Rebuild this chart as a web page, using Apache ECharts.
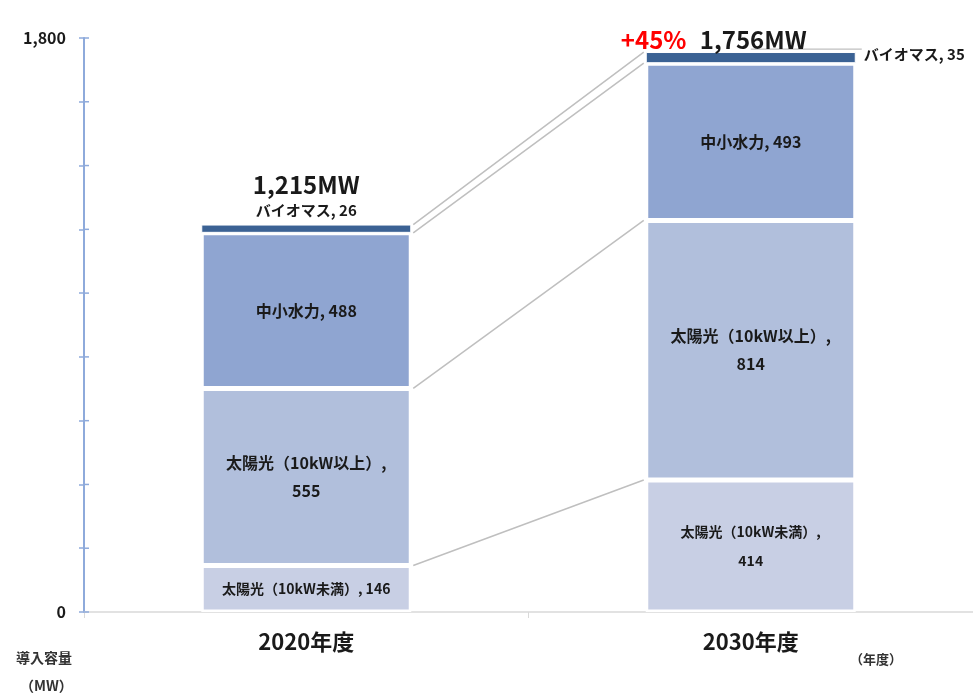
<!DOCTYPE html>
<html>
<head>
<meta charset="utf-8">
<script src="https://cdn.jsdelivr.net/npm/echarts@6/dist/echarts.min.js"></script>
<style>html,body{margin:0;padding:0;background:#fff;}#c{width:973px;height:697px;}</style>
</head>
<body>
<div id="c"></div>
<script>
var categories = ['2020年度', '2030年度'];
var solarSmall = [146, 414];
var solarLarge = [555, 814];
var hydro = [488, 493];
var biomass = [26, 35];
var yTickLabels = { 0: '0', 1800: '1,800' };
var yTickValues = [0, 200, 400, 600, 800, 1000, 1200, 1400, 1600, 1800];

var FONT = '"Noto Sans CJK JP", "Noto Sans", sans-serif';
var BAR_W = 210;
var AXIS_BLUE = '#8eaadb';
var totals = categories.map(function (c, i) { return solarSmall[i] + solarLarge[i] + hydro[i] + biomass[i]; });
var growth = Math.round((totals[1] / totals[0] - 1) * 100);
function fmt(n) { return n.toLocaleString('en-US'); }

// cumulative tops for connector lines
var cumLevels = [];
(function () {
  var s = [0, 0];
  [solarSmall, solarLarge, hydro, biomass].forEach(function (arr) {
    s = [s[0] + arr[0], s[1] + arr[1]];
    cumLevels.push([0, s[0], s[1]]);
  });
})();

var labelBase = { show: true, color: '#1a1a1a', fontFamily: FONT, fontWeight: 'bold', fontSize: 16 };

var chart = echarts.init(document.getElementById('c'));
chart.setOption({
  animation: false,
  grid: { left: 84, right: 0, top: 38, bottom: 85 },
  xAxis: {
    type: 'category',
    data: categories,
    axisLine: { lineStyle: { color: '#d9d9d9', width: 1.5 } },
    axisTick: { show: true, length: 6, lineStyle: { color: '#d9d9d9' } },
    axisLabel: { color: '#1a1a1a', fontFamily: FONT, fontWeight: 'bold', fontSize: 22, margin: 19 }
  },
  yAxis: {
    type: 'value', min: 0, max: 1800, interval: 200, position: 'left',
    axisLine: { show: true, lineStyle: { color: AXIS_BLUE, width: 2 } },
    axisTick: { show: true, inside: false, length: 5, lineStyle: { color: AXIS_BLUE, width: 1.5 } },
    splitLine: { show: false },
    axisLabel: {
      color: '#1a1a1a', fontFamily: FONT, fontWeight: 'bold', fontSize: 16, margin: 18,
      formatter: function (v) { return yTickLabels[v] !== undefined ? yTickLabels[v] : ''; }
    }
  },
  series: [
    {
      name: '太陽光（10kW未満）', type: 'bar', stack: 'a', barWidth: BAR_W, data: solarSmall,
      itemStyle: { color: '#c8cfe4', borderColor: '#fff', borderWidth: 2.5 },
      label: Object.assign({}, labelBase, {
        position: 'inside',
        formatter: function (p) {
          return p.dataIndex === 0 ? '太陽光（10kW未満）, ' + p.value : '太陽光（10kW未満）,\n' + p.value;
        },
        fontSize: 14, lineHeight: 29
      })
    },
    {
      name: '太陽光（10kW以上）', type: 'bar', stack: 'a', barWidth: BAR_W, data: solarLarge,
      itemStyle: { color: '#b1bfdc', borderColor: '#fff', borderWidth: 2.5 },
      label: Object.assign({}, labelBase, {
        position: 'inside', lineHeight: 28,
        formatter: function (p) { return '太陽光（10kW以上）,\n' + p.value; }
      })
    },
    {
      name: '中小水力', type: 'bar', stack: 'a', barWidth: BAR_W, data: hydro,
      itemStyle: { color: '#8fa5d1', borderColor: '#fff', borderWidth: 2.5 },
      label: Object.assign({}, labelBase, {
        position: 'inside',
        formatter: function (p) { return '中小水力, ' + p.value; }
      })
    },
    {
      name: 'バイオマス', type: 'bar', stack: 'a', barWidth: BAR_W,
      data: [
        { value: biomass[0], label: { position: 'top', distance: 4, formatter: '{t|' + fmt(totals[0]) + 'MW}\n{b|バイオマス, ' + biomass[0] + '}' } },
        { value: biomass[1], label: { position: 'right', distance: 8, offset: [0, -3], formatter: '{b|バイオマス, ' + biomass[1] + '}' } }
      ],
      itemStyle: { color: '#3b6294', borderColor: '#fff', borderWidth: 1 },
      label: {
        show: true, fontFamily: FONT, color: '#1a1a1a',
        rich: {
          t: { fontFamily: FONT, fontWeight: 'bold', fontSize: 24, color: '#1a1a1a', lineHeight: 32 },
          b: { fontFamily: FONT, fontWeight: 'bold', fontSize: 15, color: '#1a1a1a', lineHeight: 20 }
        }
      }
    },
    {
      type: 'scatter', symbolSize: 0, silent: true,
      itemStyle: { color: '#1a1a1a', opacity: 1 },
      data: [[1, totals[1]]],
      label: {
        show: true, position: 'top', distance: 0, offset: [-37, 0], color: '#1a1a1a', opacity: 1,
        formatter: '{r|+' + growth + '%}    {t|' + fmt(totals[1]) + 'MW}',
        rich: {
          r: { fontFamily: FONT, fontWeight: 'bold', fontSize: 24, color: '#ff0000' },
          t: { fontFamily: FONT, fontWeight: 'bold', fontSize: 24, color: '#1a1a1a' }
        }
      }
    },
    {
      type: 'custom', silent: true, z: 1,
      data: cumLevels,
      renderItem: function (params, api) {
        var p0 = api.coord([0, api.value(1)]);
        var p1 = api.coord([1, api.value(2)]);
        var children = [{
          type: 'line',
          shape: { x1: p0[0] + BAR_W / 2 + 2, y1: p0[1], x2: p1[0] - BAR_W / 2 - 2, y2: p1[1] },
          style: { stroke: '#bfbfbf', lineWidth: 1.5 }
        }];
        if (params.dataIndex === cumLevels.length - 1) {
          children.push({
            type: 'line',
            shape: { x1: p1[0], y1: p1[1] - 3, x2: p1[0] + BAR_W / 2 + 6, y2: p1[1] - 3 },
            style: { stroke: '#bfbfbf', lineWidth: 1.2 }
          });
        }
        return { type: 'group', children: children };
      }
    },
    {
      // inner half of the y-axis ticks (ticks cross the axis line)
      type: 'custom', silent: true, z: 3, clip: false,
      data: yTickValues.map(function (v) { return [0, v]; }),
      renderItem: function (params, api) {
        var y = api.coord([0, api.value(1)])[1];
        var x = params.coordSys.x;
        return {
          type: 'line',
          shape: { x1: x, y1: y, x2: x + 5, y2: y },
          style: { stroke: AXIS_BLUE, lineWidth: 1.5 }
        };
      }
    }
  ],
  graphic: [
    { type: 'text', left: 16, top: 651, style: { text: '導入容量', font: 'bold 14px ' + FONT, fill: '#333' } },
    { type: 'text', left: 20, top: 679, style: { text: '（MW）', font: 'bold 14px ' + FONT, fill: '#333' } },
    { type: 'text', left: 850, top: 653, style: { text: '（年度）', font: 'bold 13px ' + FONT, fill: '#333' } }
  ]
});
</script>
</body>
</html>
